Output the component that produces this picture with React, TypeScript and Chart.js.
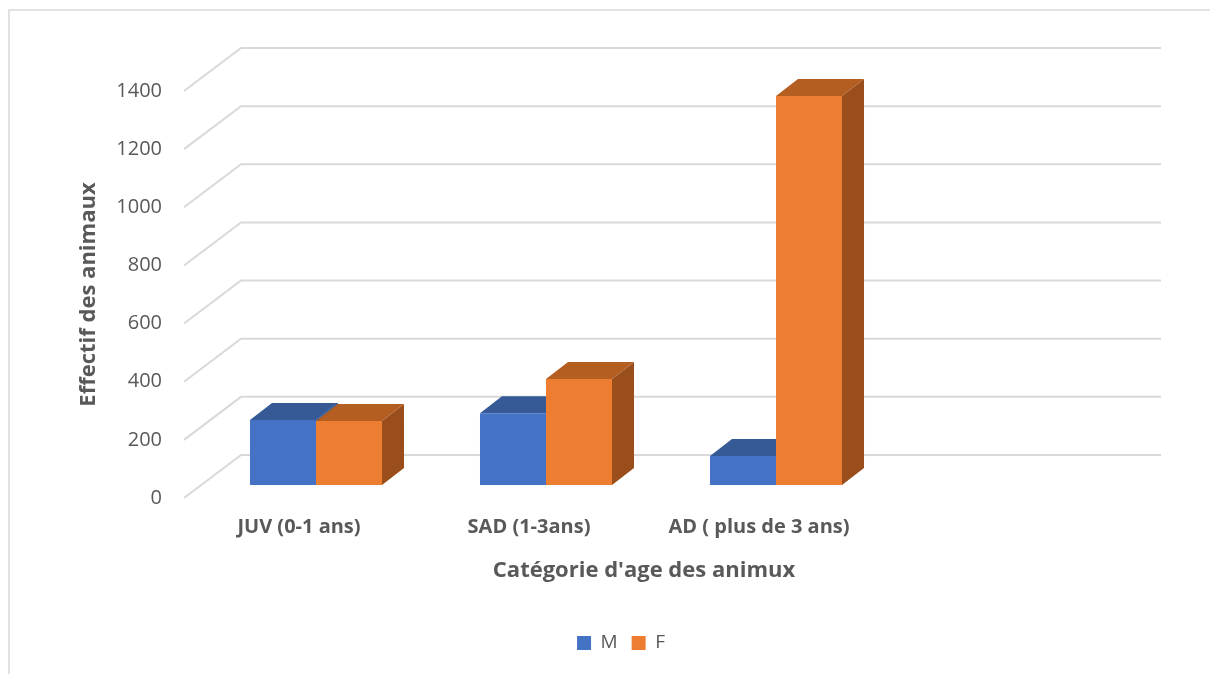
import React, { useEffect, useRef } from "react";
import { Chart, registerables } from "chart.js";

Chart.register(...registerables);

// ---- data ----
const categories = ["JUV (0-1 ans)", "SAD (1-3ans)", "AD ( plus de 3 ans)", ""];
const seriesNames = ["M", "F"];
const maleCounts = [224, 247, 100, null];
const femaleCounts = [220, 365, 1338, null];
const yMax = 1400;
const yStep = 200;

const xTitle = "Catégorie d'age des animux";
const yTitle = "Effectif des animaux";

// ---- look ----
const FONT = "'Open Sans', Lato, sans-serif";
const TEXT = "#595959";
const GRID = "#d9d9d9";
const frontColors = ["#4472C4", "#ED7D31"];
const topColors = ["#355A96", "#B45E22"];
const sideColors = ["#2E4F86", "#9A4E1C"];

// depth of the 3D box (back wall offset from the front plane)
const DEPTH_X = 57;
const DEPTH_Y = 43;
// bars sit part-way into the box
const SHIFT_X = 17;
const SHIFT_Y = 13;
const BAR_DX = 22;
const BAR_DY = 17;
const LEGEND_CENTER_X = 621;

function poly(ctx: CanvasRenderingContext2D, pts: number[][]) {
  ctx.beginPath();
  ctx.moveTo(pts[0][0], pts[0][1]);
  for (let i = 1; i < pts.length; i++) ctx.lineTo(pts[i][0], pts[i][1]);
  ctx.closePath();
  ctx.fill();
}

const box3d = {
  id: "box3d",
  beforeDraw(chart: any) {
    const { ctx, width, height } = chart;
    ctx.save();
    ctx.fillStyle = "#ffffff";
    ctx.fillRect(0, 0, width, height);
    ctx.strokeStyle = GRID;
    ctx.lineWidth = 1.5;
    ctx.strokeRect(9, 10, width + 20, height + 20);
    ctx.restore();
  },
  afterLayout(chart: any) {
    const lg = chart.legend;
    if (!lg) return;
    const shift = LEGEND_CENTER_X - (lg.left + lg.right) / 2;
    lg.left += shift;
    lg.right += shift;
  },
  beforeDatasetsDraw(chart: any) {
    const { ctx, chartArea } = chart;
    const yScale = chart.scales.y;
    ctx.save();
    // floor-to-wall gridlines
    ctx.strokeStyle = GRID;
    ctx.lineWidth = 2;
    yScale.ticks.forEach((t: any) => {
      const yf = yScale.getPixelForValue(t.value);
      ctx.beginPath();
      ctx.moveTo(chartArea.left, yf);
      ctx.lineTo(chartArea.left + DEPTH_X, yf - DEPTH_Y);
      ctx.lineTo(chartArea.right + DEPTH_X, yf - DEPTH_Y);
      ctx.stroke();
    });
    // side and top faces of each bar
    const n = chart.data.labels.length;
    for (let i = 0; i < n; i++) {
      chart.data.datasets.forEach((ds: any, d: number) => {
        if (ds.data[i] == null) return;
        const el = chart.getDatasetMeta(d).data[i];
        if (!el) return;
        const { x, y, base, width } = el.getProps(["x", "y", "base", "width"], true);
        const l = x - width / 2 + SHIFT_X;
        const r = x + width / 2 + SHIFT_X;
        const t = y - SHIFT_Y;
        const b = base - SHIFT_Y;
        ctx.fillStyle = sideColors[d];
        poly(ctx, [[r, t], [r + BAR_DX, t - BAR_DY], [r + BAR_DX, b - BAR_DY], [r, b]]);
        ctx.fillStyle = topColors[d];
        poly(ctx, [[l, t], [r, t], [r + BAR_DX, t - BAR_DY], [l + BAR_DX, t - BAR_DY]]);
      });
    }
    ctx.restore();
    // front faces are drawn by the bar controller in the bar plane
    ctx.save();
    ctx.translate(SHIFT_X, -SHIFT_Y);
  },
  afterDatasetsDraw(chart: any) {
    chart.ctx.restore();
  },
};

export default function App() {
  const ref = useRef<HTMLCanvasElement | null>(null);

  useEffect(() => {
    let chart: Chart | null = null;
    let cancelled = false;
    const make = () => {
      if (cancelled || !ref.current) return;
      chart = new Chart(ref.current, {
        type: "bar",
        data: {
          labels: categories,
          datasets: [
            {
              label: seriesNames[0],
              data: maleCounts,
              backgroundColor: frontColors[0],
              borderWidth: 0,
              categoryPercentage: 0.574,
              barPercentage: 1,
            },
            {
              label: seriesNames[1],
              data: femaleCounts,
              backgroundColor: frontColors[1],
              borderWidth: 0,
              categoryPercentage: 0.574,
              barPercentage: 1,
            },
          ],
        },
        options: {
          responsive: false,
          animation: false,
          devicePixelRatio: 1,
          layout: { padding: { top: 91, bottom: 11.5, left: 0, right: 106 } },
          plugins: {
            tooltip: { enabled: false },
            legend: {
              position: "bottom",
              labels: {
                boxWidth: 14,
                boxHeight: 14,
                padding: 14,
                color: TEXT,
                font: { family: FONT, size: 19 },
              },
            },
          },
          scales: {
            x: {
              grid: { display: false },
              border: { display: false },
              ticks: {
                padding: 9,
                color: TEXT,
                autoSkip: false,
                maxRotation: 0,
                font: { family: FONT, size: 20, weight: "bold" },
              },
              title: {
                display: true,
                text: xTitle,
                color: TEXT,
                font: { family: FONT, size: 22, weight: "bold" },
                padding: { top: 0, bottom: 36 },
              },
              afterFit: (s: any) => {
                s.height = 121.5;
                s.paddingLeft = 0;
                s.paddingRight = 0;
              },
            },
            y: {
              min: 0,
              max: yMax,
              grid: { display: false },
              border: { display: false },
              ticks: {
                stepSize: yStep,
                padding: 14,
                color: TEXT,
                font: { family: FONT, size: 20 },
                callback: (v: any) => String(v),
              },
              title: {
                display: true,
                text: yTitle,
                color: TEXT,
                font: { family: FONT, size: 22, weight: "bold" },
                padding: { top: 76, bottom: 0 },
              },
              afterFit: (s: any) => {
                s.width = 184;
              },
            },
          },
        },
        plugins: [box3d],
      });
    };
    const fonts = (document as any).fonts;
    if (fonts && fonts.load) {
      Promise.all([
        fonts.load(`20px ${FONT}`),
        fonts.load(`bold 20px ${FONT}`),
      ]).then(make, make);
    } else {
      make();
    }
    return () => {
      cancelled = true;
      if (chart) chart.destroy();
    };
  }, []);

  return (
    <div style={{ position: "fixed", left: 0, top: 0, width: 1210, height: 674, background: "#fff" }}>
      <canvas ref={ref} width={1210} height={674} style={{ display: "block" }} />
    </div>
  );
}
